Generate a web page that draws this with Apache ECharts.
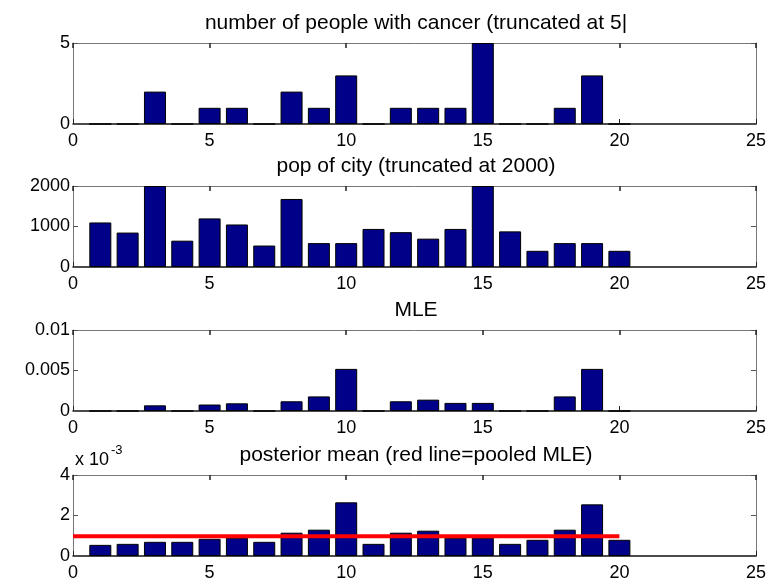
<!DOCTYPE html>
<html>
<head>
<meta charset="utf-8">
<script src="https://cdn.jsdelivr.net/npm/echarts@6/dist/echarts.min.js"></script>
<style>
html, body { margin: 0; padding: 0; background: #fff; }
#main { width: 772px; height: 584px; }
</style>
</head>
<body>
<div id="main"></div>
<script>
// city index 1..20
var cities = [1, 2, 3, 4, 5, 6, 7, 8, 9, 10, 11, 12, 13, 14, 15, 16, 17, 18, 19, 20];
var cancerCount = [0, 0, 2, 0, 1, 1, 0, 2, 1, 3, 0, 1, 1, 1, 5, 0, 0, 1, 3, 0];
var cityPop = [1100, 850, 2000, 650, 1200, 1050, 530, 1680, 590, 590, 940, 860, 700, 940, 2000, 880, 400, 590, 590, 400];
var mle = [0, 0, 0.0007, 0, 0.0008, 0.00095, 0, 0.0012, 0.0018, 0.0052, 0, 0.0012, 0.0014, 0.001, 0.001, 0, 0, 0.0018, 0.0052, 0];
// posterior mean, in units of 1e-3
var postMean = [0.55, 0.6, 0.7, 0.7, 0.85, 0.9, 0.7, 1.15, 1.3, 2.65, 0.6, 1.15, 1.25, 0.9, 0.9, 0.6, 0.8, 1.3, 2.55, 0.8];
var pooledMle = 0.98;
var pooledRange = [0, 20];

var titles = [
	'number of people with cancer (truncated at 5|',
	'pop of city (truncated at 2000)',
	'MLE',
	'posterior mean (red line=pooled MLE)'
];
var yMax = [5, 2000, 0.01, 4];
var yStep = [5, 1000, 0.005, 2];

var tops = [43, 186, 330, 475];
var plotH = 81;
var fontFam = '"Liberation Sans", Arial, sans-serif';
var frameColor = '#777';

function pairs(vals) {
	var out = [];
	for (var i = 0; i < cities.length; i++) {
		out.push([cities[i], vals[i]]);
	}
	return out;
}

function plainNum(v) {
	return String(v);
}

var grids = [], xAxes = [], yAxes = [], series = [], graphics = [];
var allData = [cancerCount, cityPop, mle, postMean];

for (var i = 0; i < 4; i++) {
	grids.push({
		left: 73,
		right: 16,
		top: tops[i],
		height: plotH
	});
	// bottom x axis with labels
	xAxes.push({
		type: 'value',
		gridIndex: i,
		min: 0,
		max: 25,
		interval: 5,
		position: 'bottom',
		splitLine: { show: false },
		axisLine: { show: true, onZero: false, lineStyle: { color: '#111', width: 1.5 } },
		axisTick: { show: true, inside: true, length: 5, lineStyle: { color: '#222' } },
		axisLabel: { color: '#000', fontSize: 18, fontFamily: fontFam, margin: 8 }
	});
	// top x axis, ticks only
	xAxes.push({
		type: 'value',
		gridIndex: i,
		min: 0,
		max: 25,
		interval: 5,
		position: 'top',
		splitLine: { show: false },
		axisLine: { show: true, onZero: false, lineStyle: { color: frameColor } },
		axisTick: { show: true, inside: true, length: 5, lineStyle: { color: '#222', width: 1.5 } },
		axisLabel: { show: false }
	});
	yAxes.push({
		type: 'value',
		gridIndex: i,
		min: 0,
		max: yMax[i],
		interval: yStep[i],
		position: 'left',
		splitLine: { show: false },
		axisLine: { show: true, onZero: false, lineStyle: { color: frameColor } },
		axisTick: { show: true, inside: true, length: 5, lineStyle: { color: '#555' } },
		axisLabel: { color: '#000', fontSize: 18, fontFamily: fontFam, margin: 3, formatter: plainNum }
	});
	yAxes.push({
		type: 'value',
		gridIndex: i,
		min: 0,
		max: yMax[i],
		interval: yStep[i],
		position: 'right',
		splitLine: { show: false },
		axisLine: { show: true, onZero: false, lineStyle: { color: frameColor } },
		axisTick: { show: true, inside: true, length: 5, lineStyle: { color: '#555' } },
		axisLabel: { show: false }
	});
	series.push({
		type: 'bar',
		xAxisIndex: i * 2,
		yAxisIndex: i * 2,
		barWidth: 22,
		itemStyle: { color: '#000088', borderColor: '#000', borderWidth: 1 },
		silent: true,
		data: pairs(allData[i])
	});
	graphics.push({
		type: 'text',
		x: 416,
		y: tops[i] - 20,
		style: {
			text: titles[i],
			fill: '#000',
			font: '21px ' + fontFam,
			textAlign: 'center',
			textVerticalAlign: 'middle'
		}
	});
}

series.push({
	type: 'line',
	xAxisIndex: 6,
	yAxisIndex: 6,
	symbol: 'none',
	silent: true,
	z: 5,
	lineStyle: { color: '#ff0000', width: 4 },
	data: [[pooledRange[0], pooledMle], [pooledRange[1], pooledMle]]
});

// exponent label for last panel
graphics.push({
	type: 'text',
	x: 75,
	y: 444,
	style: {
		text: '{b|x 10}{s|-3}',
		rich: {
			b: { fontSize: 18, fontFamily: fontFam, fill: '#000', verticalAlign: 'bottom' },
			s: { fontSize: 13, fontFamily: fontFam, fill: '#000', padding: [0, 0, 12, 2] }
		}
	}
});

var chart = echarts.init(document.getElementById('main'), null, { renderer: 'canvas' });
chart.setOption({
	animation: false,
	grid: grids,
	xAxis: xAxes,
	yAxis: yAxes,
	series: series,
	graphic: graphics
});
</script>
</body>
</html>
